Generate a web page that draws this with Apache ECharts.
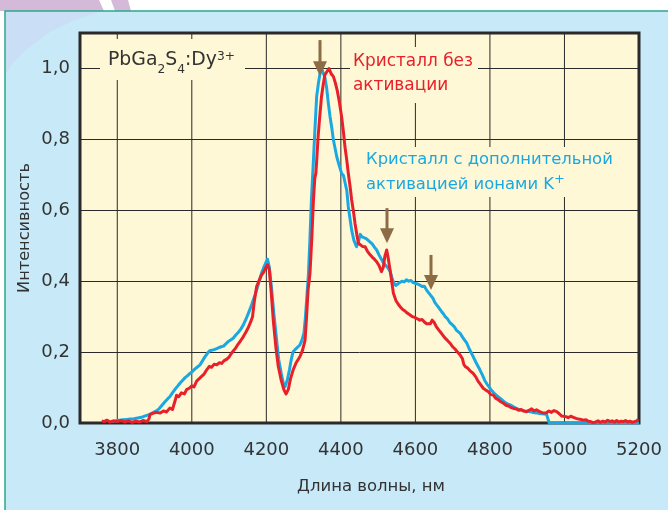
<!DOCTYPE html>
<html><head><meta charset="utf-8">
<script src="https://cdn.jsdelivr.net/npm/echarts@6/dist/echarts.min.js"></script>
<style>html,body{margin:0;padding:0;background:#fff}#c{width:668px;height:510px}</style>
</head><body><div id="c"></div>
<script>
// ---- data ----
const xTicks = [3800, 4000, 4200, 4400, 4600, 4800, 5000, 5200];
const yTicks = [0, 0.2, 0.4, 0.6, 0.8, 1.0];

const redWl = [3758,3765,3772,3780,3790,3800,3810,3820,3830,3840,3850,3860,3870,3880,3885,3888,3895,3905,3915,3924,3932,3941,3948,3955,3959,3965,3972,3980,3986,3993,4000,4006,4013,4020,4027,4033,4040,4047,4053,4060,4067,4074,4080,4087,4094,4100,4106,4111,4118,4124,4131,4138,4145,4152,4158,4163,4168,4174,4180,4187,4192,4197,4203,4208,4213,4219,4226,4232,4240,4247,4253,4259,4265,4272,4280,4290,4297,4304,4308,4312,4317,4322,4326,4330,4333,4336,4339,4343,4348,4352,4357,4362,4368,4374,4380,4385,4390,4396,4402,4407,4411,4416,4420,4425,4429,4434,4438,4443,4447,4452,4458,4465,4471,4478,4484,4490,4496,4502,4509,4514,4518,4523,4527,4532,4537,4541,4548,4554,4559,4566,4572,4578,4585,4592,4598,4605,4612,4618,4624,4630,4635,4640,4645,4650,4656,4661,4666,4672,4679,4686,4693,4700,4707,4713,4720,4726,4730,4734,4740,4746,4750,4755,4762,4768,4775,4782,4790,4796,4802,4809,4815,4822,4829,4836,4843,4850,4856,4863,4870,4877,4884,4890,4898,4905,4912,4918,4925,4932,4938,4945,4952,4958,4965,4972,4979,4986,4992,4997,5004,5010,5017,5024,5031,5038,5044,5051,5058,5064,5070,5077,5084,5090,5096,5103,5110,5116,5122,5128,5134,5140,5146,5152,5158,5164,5170,5176,5182,5188,5194,5198];
const redI = [0.006,0.004,0.008,0.003,0.006,0.004,0.007,0.003,0.006,0.002,0.005,0.003,0.007,0.004,0.012,0.024,0.027,0.030,0.028,0.034,0.031,0.042,0.038,0.062,0.078,0.074,0.085,0.082,0.094,0.098,0.105,0.102,0.118,0.125,0.132,0.138,0.150,0.160,0.157,0.166,0.164,0.170,0.168,0.176,0.180,0.186,0.196,0.201,0.212,0.222,0.232,0.243,0.256,0.270,0.285,0.300,0.345,0.385,0.400,0.417,0.424,0.435,0.446,0.432,0.370,0.285,0.210,0.160,0.120,0.094,0.082,0.095,0.125,0.150,0.170,0.187,0.205,0.234,0.300,0.375,0.420,0.520,0.620,0.690,0.705,0.755,0.808,0.860,0.920,0.950,0.982,0.990,1.000,0.985,0.977,0.960,0.939,0.905,0.864,0.820,0.779,0.740,0.704,0.665,0.629,0.595,0.563,0.530,0.507,0.505,0.498,0.497,0.485,0.475,0.468,0.462,0.455,0.445,0.427,0.440,0.470,0.488,0.465,0.432,0.395,0.366,0.345,0.335,0.328,0.320,0.316,0.310,0.305,0.300,0.298,0.294,0.290,0.292,0.285,0.280,0.276,0.280,0.290,0.284,0.272,0.265,0.258,0.250,0.240,0.233,0.225,0.215,0.208,0.200,0.192,0.182,0.165,0.159,0.155,0.148,0.144,0.140,0.130,0.118,0.108,0.098,0.092,0.088,0.080,0.079,0.070,0.066,0.060,0.056,0.050,0.048,0.044,0.041,0.040,0.036,0.038,0.034,0.032,0.036,0.040,0.034,0.037,0.033,0.030,0.028,0.029,0.034,0.030,0.035,0.032,0.026,0.020,0.016,0.018,0.015,0.019,0.016,0.013,0.011,0.010,0.008,0.009,0.005,0.004,0.001,0.003,0.006,0.002,0.005,0.003,0.008,0.004,0.006,0.002,0.007,0.003,0.005,0.004,0.007,0.003,0.005,0.002,0.004,0.006,0.011];

const blueWl = [3785,3795,3805,3815,3825,3835,3845,3855,3865,3875,3883,3890,3897,3905,3912,3920,3928,3935,3941,3948,3955,3962,3968,3975,3982,3988,3995,4001,4008,4015,4022,4029,4036,4043,4048,4053,4060,4067,4073,4079,4085,4092,4098,4104,4111,4118,4125,4131,4138,4145,4152,4158,4165,4170,4176,4182,4187,4192,4197,4203,4208,4214,4220,4227,4233,4240,4245,4250,4256,4262,4267,4272,4280,4290,4296,4301,4305,4309,4313,4317,4321,4326,4330,4335,4340,4344,4349,4353,4357,4362,4366,4371,4376,4380,4385,4389,4395,4402,4407,4411,4416,4420,4424,4429,4435,4442,4447,4452,4457,4462,4468,4473,4478,4484,4490,4496,4502,4508,4514,4520,4526,4532,4537,4542,4547,4552,4558,4564,4570,4576,4582,4588,4594,4600,4606,4612,4618,4624,4630,4635,4641,4647,4652,4657,4663,4669,4675,4680,4686,4692,4698,4704,4710,4715,4720,4726,4732,4738,4745,4750,4755,4762,4768,4773,4780,4786,4792,4800,4806,4813,4820,4827,4834,4840,4847,4854,4861,4867,4874,4881,4888,4894,4901,4907,4914,4920,4927,4934,4940,4946,4952,4957,4959,5200];
const blueI = [0.004,0.006,0.008,0.009,0.010,0.011,0.012,0.014,0.016,0.020,0.023,0.026,0.030,0.034,0.040,0.050,0.060,0.068,0.074,0.085,0.095,0.104,0.112,0.120,0.128,0.133,0.140,0.145,0.152,0.158,0.164,0.176,0.188,0.198,0.204,0.206,0.207,0.210,0.213,0.215,0.217,0.224,0.230,0.234,0.239,0.248,0.256,0.264,0.276,0.292,0.310,0.326,0.347,0.362,0.382,0.404,0.422,0.436,0.448,0.462,0.440,0.380,0.310,0.240,0.180,0.140,0.115,0.102,0.120,0.150,0.180,0.201,0.210,0.220,0.235,0.254,0.300,0.360,0.420,0.520,0.630,0.733,0.820,0.920,0.960,0.986,0.998,0.996,0.975,0.944,0.905,0.864,0.830,0.798,0.772,0.751,0.728,0.704,0.698,0.695,0.655,0.610,0.580,0.544,0.515,0.497,0.510,0.532,0.525,0.530,0.520,0.522,0.511,0.505,0.496,0.488,0.475,0.463,0.452,0.445,0.438,0.428,0.410,0.395,0.388,0.392,0.396,0.400,0.398,0.404,0.400,0.402,0.396,0.394,0.392,0.389,0.385,0.386,0.375,0.370,0.360,0.352,0.340,0.333,0.325,0.316,0.308,0.300,0.294,0.284,0.278,0.272,0.262,0.258,0.253,0.243,0.234,0.225,0.208,0.198,0.187,0.172,0.160,0.150,0.135,0.120,0.110,0.098,0.090,0.082,0.076,0.070,0.064,0.058,0.054,0.051,0.047,0.043,0.040,0.037,0.035,0.034,0.033,0.032,0.030,0.029,0.028,0.027,0.026,0.025,0.024,0.023,0.000,0.000];

const arrowWl = [4344, 4523, 4641];
const arrowTop = [1.08, 0.606, 0.474];
const arrowTip = [0.978, 0.507, 0.375];

// ---- styling ----
const FONT = "'DejaVu Sans', sans-serif";
const PLOT_BG = '#fef8d6';
const RED = '#e8202a';
const BLUE = '#1aa8e2';
const BROWN = '#8c6c44';

const ctx = document.createElement('canvas').getContext('2d');
function tw(t, s) { ctx.font = s + 'px ' + FONT; return ctx.measureText(t).width; }
// font size that makes text t span the target width
function fit(t, target) { return 20 * target / tw(t, 20); }

function richRow(parts, x0, color, k) {
  const els = [];
  let x = x0;
  parts.forEach(p => {
    const s = p.s * k;
    els.push({ type: 'text', x: x, y: p.y, z: 3,
      style: { text: p.t, fill: color, font: s + 'px ' + FONT, textAlign: 'left', textVerticalAlign: 'middle' } });
    x += tw(p.t, s);
  });
  return els;
}

const redSize = fit('Кристалл без', 120);
const blueSize = fit('Кристалл с дополнительной', 247);
const ySize = fit('Интенсивность', 130);
const xSize = fit('Длина волны, нм', 148);
const chemParts = [
  { t: 'PbGa', s: 20, y: 59.8 }, { t: '2', s: 13, y: 69.5 }, { t: 'S', s: 20, y: 59.8 },
  { t: '4', s: 13, y: 69.5 }, { t: ':Dy', s: 20, y: 59.8 }, { t: '3+', s: 13, y: 57.2 }
];
const chemW = chemParts.reduce((a, p) => a + tw(p.t, p.s), 0);
const chemK = 127 / chemW;

const redData = redWl.map((w, i) => [w, redI[i]]);
const blueData = blueWl.map((w, i) => [w, blueI[i]]);
const arrowData = arrowWl.map((w, i) => [w, arrowTop[i], arrowTip[i]]);

const graphics = [
  { type: 'rect', z: -30, shape: { x: 0, y: 0, width: 668, height: 510 }, style: { fill: '#ffffff' } },
  { type: 'polygon', z: -29, shape: { points: [[0,0],[99,0],[104,11],[0,11]] }, style: { fill: '#d5b9d9' } },
  { type: 'polygon', z: -29, shape: { points: [[111,0],[128,0],[131,11],[115,11]] }, style: { fill: '#d5b9d9' } },
  { type: 'rect', z: -28, shape: { x: 5, y: 11, width: 680, height: 520 }, style: { fill: '#c7e9f8', stroke: '#28a98c', lineWidth: 1.5 } },
  { type: 'polygon', z: -27, shape: { points: [[6,12],[98,12],[75,20],[50,32],[28,48],[12,64],[6,74]] }, style: { fill: '#cadff5' } },
  // label backgrounds
  { type: 'rect', z: 2, shape: { x: 100, y: 39, width: 145, height: 41 }, style: { fill: PLOT_BG } },
  { type: 'rect', z: 2, shape: { x: 350, y: 47, width: 128, height: 56 }, style: { fill: PLOT_BG } },
  { type: 'rect', z: 2, shape: { x: 362, y: 147, width: 256, height: 50 }, style: { fill: PLOT_BG } },
  // axis names
  { type: 'text', x: 25, y: 228, rotation: Math.PI / 2, z: 3,
    style: { text: 'Интенсивность', fill: '#333', font: ySize + 'px ' + FONT, textAlign: 'center', textVerticalAlign: 'middle' } },
  { type: 'text', x: 371, y: 487, z: 3,
    style: { text: 'Длина волны, нм', fill: '#333', font: xSize + 'px ' + FONT, textAlign: 'center', textVerticalAlign: 'middle' } }
]
.concat(richRow(chemParts, 108, '#333', chemK))
.concat(richRow([{ t: 'Кристалл без', s: redSize, y: 62 }], 353, RED, 1))
.concat(richRow([{ t: 'активации', s: redSize, y: 85.5 }], 353, RED, 1))
.concat(richRow([{ t: 'Кристалл с дополнительной', s: blueSize, y: 159.8 }], 366, BLUE, 1))
.concat(richRow([{ t: 'активацией ионами K', s: blueSize, y: 184.8 }, { t: '+', s: 13, y: 179.5 }], 366, BLUE, 1));

const chart = echarts.init(document.getElementById('c'), null, { renderer: 'canvas' });
chart.setOption({
  animation: false,
  backgroundColor: 'transparent',
  graphic: { elements: graphics },
  grid: { left: 80, top: 33, width: 559, height: 390, show: true, backgroundColor: PLOT_BG, borderColor: '#2a2a2a', borderWidth: 3 },
  xAxis: {
    type: 'value', min: 3700, max: 5200, interval: 100,
    axisLine: { show: false }, axisTick: { show: false }, splitLine: { show: false },
    axisLabel: { formatter: v => xTicks.indexOf(v) >= 0 ? String(v) : '', color: '#333', fontSize: 18, fontFamily: FONT, margin: 18 }
  },
  yAxis: {
    type: 'value', min: 0, max: 1.1, interval: 0.2,
    axisLine: { show: false }, axisTick: { show: false },
    splitLine: { show: true, lineStyle: { color: '#2a2a2a', width: 1 } },
    axisLabel: {
      formatter: v => yTicks.some(t => Math.abs(t - v) < 1e-6) ? v.toFixed(1).replace('.', ',') : '',
      color: '#333', fontSize: 18, fontFamily: FONT, margin: 10
    }
  },
  series: [
    {
      type: 'custom', z: 1, silent: true,
      data: xTicks.filter(v => v < 5200).map(v => [v, 0]),
      renderItem: (params, api) => {
        const a = api.coord([api.value(0), 0]);
        const b = api.coord([api.value(0), 1.1]);
        return { type: 'line', shape: { x1: a[0], y1: a[1], x2: b[0], y2: b[1] }, style: { stroke: '#2a2a2a', lineWidth: 1 } };
      }
    },
    { type: 'line', z: 4, data: blueData, showSymbol: false, symbol: 'none', silent: true,
      lineStyle: { color: BLUE, width: 3, join: 'round' } },
    { type: 'line', z: 5, data: redData, showSymbol: false, symbol: 'none', silent: true,
      lineStyle: { color: RED, width: 3, join: 'round' } },
    {
      type: 'custom', z: 6, silent: true,
      dimensions: ['x', 'top', 'tip'], encode: { x: 0, y: [1, 2] },
      data: arrowData,
      renderItem: (params, api) => {
        const p0 = api.coord([api.value(0), api.value(1)]);
        const p1 = api.coord([api.value(0), api.value(2)]);
        const x = Math.round(p0[0]);
        return { type: 'group', children: [
          { type: 'line', shape: { x1: x, y1: p0[1], x2: x, y2: p1[1] - 12 }, style: { stroke: BROWN, lineWidth: 3 } },
          { type: 'polygon', shape: { points: [[x - 7, p1[1] - 15], [x + 7, p1[1] - 15], [x, p1[1]]] }, style: { fill: BROWN } }
        ] };
      }
    }
  ]
});
</script>
</body></html>
